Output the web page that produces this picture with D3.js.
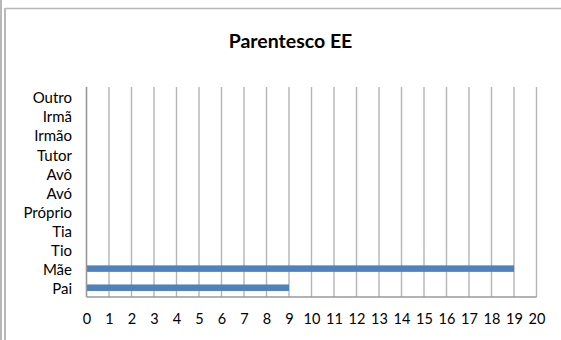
<!DOCTYPE html>
<html>
<head>
<meta charset="utf-8">
<script src="https://cdn.jsdelivr.net/npm/d3@7"></script>
<style>
  html, body { margin: 0; padding: 0; background: #fff; }
  svg { display: block; }
  text { font-family: Lato, "Open Sans", sans-serif; fill: #000; }
</style>
</head>
<body>
<svg id="chart" width="561" height="340"></svg>
<script>
// Relationship of the student's guardian (Encarregado de Educação)
const categories = ["Pai", "Mãe", "Tio", "Tia", "Próprio", "Avó", "Avô", "Tutor", "Irmão", "Irmã", "Outro"];
const counts     = [9, 19, 0, 0, 0, 0, 0, 0, 0, 0, 0];
const xTicks     = [0, 1, 2, 3, 4, 5, 6, 7, 8, 9, 10, 11, 12, 13, 14, 15, 16, 17, 18, 19, 20];
const title      = "Parentesco EE";

const svg = d3.select("#chart");

// Frame of the chart object
svg.append("line").attr("x1", 1).attr("x2", 1).attr("y1", 0).attr("y2", 340)
  .attr("stroke", "#b8b8b8").attr("stroke-width", 2);
svg.append("line").attr("x1", 5).attr("x2", 5).attr("y1", 8).attr("y2", 340)
  .attr("stroke", "#b8b8b8").attr("stroke-width", 2);
svg.append("line").attr("x1", 5).attr("x2", 561).attr("y1", 8.5).attr("y2", 8.5)
  .attr("stroke", "#b8b8b8").attr("stroke-width", 1.5);

const plot = { left: 86.5, right: 536.5, top: 87, bottom: 297 };

const x = d3.scaleLinear().domain([0, 20]).range([plot.left, plot.right]);
const yBand = d3.scaleBand().domain(categories).range([plot.bottom, plot.top]);

// Vertical gridlines
svg.append("g")
  .selectAll("line")
  .data(xTicks)
  .join("line")
  .attr("x1", d => x(d)).attr("x2", d => x(d))
  .attr("y1", plot.top).attr("y2", plot.bottom)
  .attr("stroke", "#b4b4b4").attr("stroke-width", 1.4);

// Bars
svg.append("g")
  .selectAll("rect")
  .data(categories.map((c, i) => ({ c, v: counts[i] })).filter(d => d.v > 0))
  .join("rect")
  .attr("x", x(0))
  .attr("y", d => yBand(d.c) + yBand.bandwidth() / 2 - 3)
  .attr("width", d => x(d.v) - x(0))
  .attr("height", 6.5)
  .attr("fill", "#4f81bd");

// Axis lines
svg.append("line").attr("x1", plot.left).attr("x2", plot.left)
  .attr("y1", plot.top).attr("y2", plot.bottom)
  .attr("stroke", "#9a9a9a").attr("stroke-width", 1.4);
svg.append("line").attr("x1", plot.left).attr("x2", plot.right)
  .attr("y1", plot.bottom).attr("y2", plot.bottom)
  .attr("stroke", "#9a9a9a").attr("stroke-width", 1.4);

// X axis labels
const xAxis = d3.axisBottom(x).tickValues(xTicks).tickSize(0).tickPadding(0);
const gx = svg.append("g").attr("transform", `translate(0,${plot.bottom + 16.5})`).call(xAxis);
gx.select(".domain").remove();
gx.selectAll("text").attr("font-size", 14.5).attr("font-family", "Lato, sans-serif").attr("fill", "#000").attr("dy", "0.71em");

// Y axis labels
const yAxis = d3.axisLeft(yBand).tickSize(0).tickPadding(0);
const gy = svg.append("g").attr("transform", `translate(${plot.left - 14.5},0)`).call(yAxis);
gy.select(".domain").remove();
gy.selectAll("text").attr("font-size", 15).attr("font-family", "Lato, sans-serif").attr("fill", "#000").attr("dy", "0.45em");

// Title
svg.append("text")
  .attr("x", 290.5).attr("y", 48)
  .attr("text-anchor", "middle")
  .attr("font-size", 19.5).attr("font-weight", "bold")
  .text(title);
</script>
</body>
</html>
